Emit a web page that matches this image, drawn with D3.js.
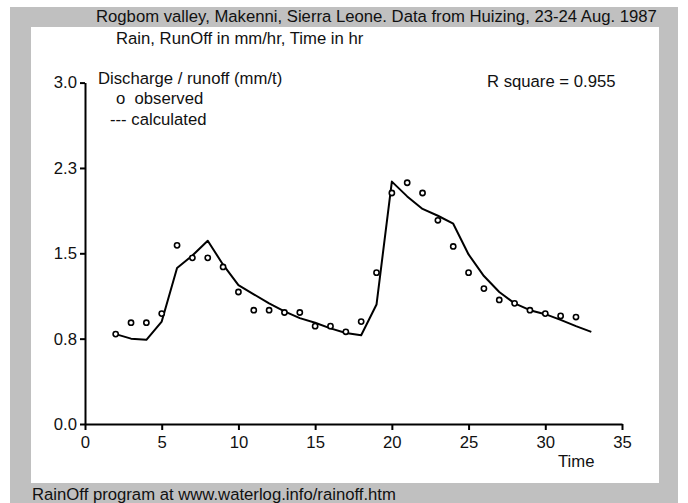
<!DOCTYPE html>
<html>
<head>
<meta charset="utf-8">
<script src="https://cdn.jsdelivr.net/npm/d3@7"></script>
<style>
  html, body { margin: 0; padding: 0; background: #ffffff; }
  svg { display: block; font-family: "Liberation Sans", Arial, sans-serif; }
</style>
</head>
<body>
<svg id="chart" width="688" height="503"></svg>
<script>
// Runoff hydrograph: observed discharge (circles) and calculated discharge (line)
const timeObserved = [2, 3, 4, 5, 6, 7, 8, 9, 10, 11, 12, 13, 14, 15, 16, 17,
  18, 19, 20, 21, 22, 23, 24, 25, 26, 27, 28, 29, 30, 31, 32];
const observed = [0.79, 0.89, 0.89, 0.97, 1.57, 1.46, 1.46, 1.38, 1.16, 1.00, 1.00,
  0.98, 0.98, 0.86, 0.86, 0.81, 0.90, 1.33, 2.03, 2.12, 2.03, 1.79, 1.56, 1.33,
  1.19, 1.09, 1.06, 1.00, 0.97, 0.95, 0.94];

const timeCalculated = [2, 3, 4, 5, 6, 7, 8, 9, 10, 11, 12, 13, 14, 15, 16, 17,
  18, 19, 20, 21, 22, 23, 24, 25, 26, 27, 28, 29, 30, 31, 32, 33];
const calculated = [0.79, 0.75, 0.74, 0.90, 1.37, 1.48, 1.61, 1.40, 1.22, 1.14, 1.06,
  0.99, 0.93, 0.89, 0.84, 0.80, 0.78, 1.05, 2.13, 2.00, 1.89, 1.83, 1.76, 1.49,
  1.30, 1.16, 1.06, 1.00, 0.965, 0.915, 0.86, 0.81];

const xTicks = [0, 5, 10, 15, 20, 25, 30, 35];
const yTicks = [0, 0.75, 1.5, 2.25, 3.0];
const yTickLabels = ["0.0", "0.8", "1.5", "2.3", "3.0"];

const svg = d3.select("#chart");

// outer grey frame and white plotting panel
svg.append("rect").attr("x", 10).attr("y", 7).attr("width", 668).attr("height", 496)
  .attr("fill", "#c0c0c0");
svg.append("rect").attr("x", 31).attr("y", 27).attr("width", 628).attr("height", 456)
  .attr("fill", "#ffffff");

const x = d3.scaleLinear().domain([0, 35]).range([85, 622]);
const y = d3.scaleLinear().domain([0, 3]).range([424, 82.6]);

const fontSize = 16.7;

// x axis
const xAxis = svg.append("g")
  .attr("transform", `translate(0,${y(0)})`)
  .call(d3.axisBottom(x).tickValues(xTicks).tickSize(6).tickSizeOuter(0).tickPadding(6));
xAxis.select(".domain").attr("stroke", "#000").attr("stroke-width", 2);
xAxis.selectAll(".tick line").attr("stroke", "#000").attr("stroke-width", 2);
xAxis.selectAll(".tick text").attr("font-size", fontSize).attr("fill", "#111")
  .attr("font-family", "Liberation Sans, Arial, sans-serif");

// y axis
const yAxis = svg.append("g")
  .attr("transform", `translate(${x(0)},0)`)
  .call(d3.axisLeft(y).tickValues(yTicks).tickSize(5).tickSizeOuter(0).tickPadding(3)
    .tickFormat((d, i) => yTickLabels[i]));
yAxis.select(".domain").attr("stroke", "#000").attr("stroke-width", 2);
yAxis.selectAll(".tick line").attr("stroke", "#000").attr("stroke-width", 2);
yAxis.selectAll(".tick text").attr("font-size", fontSize).attr("fill", "#111")
  .attr("font-family", "Liberation Sans, Arial, sans-serif");

// calculated discharge line
const line = d3.line()
  .x((d, i) => x(timeCalculated[i]))
  .y(d => y(d));
svg.append("path")
  .datum(calculated)
  .attr("d", line)
  .attr("fill", "none")
  .attr("stroke", "#000")
  .attr("stroke-width", 2)
  .attr("stroke-linejoin", "round");

// observed discharge points
svg.append("g").selectAll("circle")
  .data(observed)
  .join("circle")
  .attr("cx", (d, i) => x(timeObserved[i]))
  .attr("cy", d => y(d))
  .attr("r", 2.6)
  .attr("fill", "#fff")
  .attr("stroke", "#000")
  .attr("stroke-width", 1.6);

// texts
const texts = [
  { t: "Rogbom valley, Makenni, Sierra Leone. Data from Huizing, 23-24 Aug. 1987", x: 96, y: 22 },
  { t: "Rain, RunOff in mm/hr, Time in hr", x: 116, y: 44 },
  { t: "Discharge / runoff (mm/t)", x: 98, y: 84 },
  { t: "o  observed", x: 116, y: 104 },
  { t: "--- calculated", x: 110, y: 125 },
  { t: "R square = 0.955", x: 487, y: 87 },
  { t: "Time", x: 558, y: 467 },
  { t: "RainOff program at www.waterlog.info/rainoff.htm", x: 32, y: 500 }
];
svg.append("g").selectAll("text")
  .data(texts)
  .join("text")
  .attr("x", d => d.x)
  .attr("y", d => d.y)
  .attr("font-size", fontSize)
  .attr("fill", "#111")
  .attr("xml:space", "preserve")
  .style("white-space", "pre")
  .text(d => d.t);
</script>
</body>
</html>
